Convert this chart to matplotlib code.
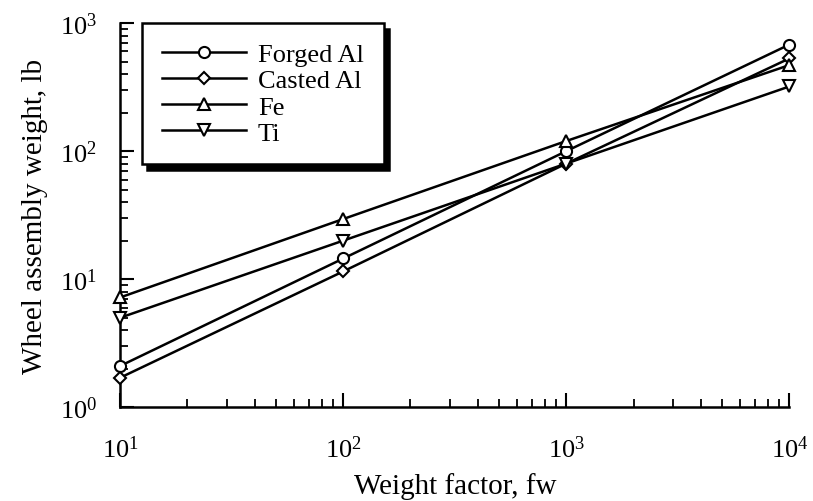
import matplotlib
matplotlib.use("Agg")
import matplotlib.pyplot as plt
from matplotlib.patches import Shadow

plt.rcParams["font.family"] = ["Liberation Serif", "DejaVu Serif"]
plt.rcParams["mathtext.fontset"] = "custom"
plt.rcParams["mathtext.rm"] = "Liberation Serif"

# weight factor (x) and wheel assembly weight (y, lb)
weight_factor = [10, 100, 1000, 10000]
forged_al = [2.1, 14.5, 100, 680]
casted_al = [1.7, 11.5, 80, 530]
fe = [7.2, 29.5, 120, 470]
ti = [5.0, 20, 80, 320]

series = [
    ("Forged Al", forged_al, "o", 8),
    ("Casted Al", casted_al, "D", 6),
    ("Fe", fe, "^", 8),
    ("Ti", ti, "v", 8),
]

fig = plt.figure(figsize=(8.13, 5.02), dpi=100)
ax = fig.add_axes([0.148, 0.187, 0.823, 0.765])

for name, vals, mk, ms in series:
    ax.plot(weight_factor, vals, color="black", lw=1.8, marker=mk, ms=ms,
            mfc="white", mec="black", mew=1.5, label=name, clip_on=False, zorder=3)

ax.set_xscale("log")
ax.set_yscale("log")
ax.set_xlim(10, 1e4)
ax.set_ylim(1, 1e3)

for side in ["top", "right"]:
    ax.spines[side].set_visible(False)
for side in ["left", "bottom"]:
    ax.spines[side].set_linewidth(1.8)

ax.tick_params(which="major", direction="in", length=10, width=1.5, labelsize=19)
ax.tick_params(axis="x", which="major", pad=20)
ax.tick_params(axis="y", which="major", pad=17)
ax.tick_params(which="minor", direction="in", length=6, width=1.3)

ax.set_xlabel("Weight factor, fw", fontsize=21, labelpad=8)
ax.set_ylabel("Wheel assembly weight, lb", fontsize=21, labelpad=8)

leg = ax.legend(loc="upper left", bbox_to_anchor=(0.032, 1.0), borderaxespad=0,
                fontsize=19, frameon=True, fancybox=False, framealpha=1,
                edgecolor="black", handlelength=3.2, handletextpad=0.45,
                labelspacing=0.1, borderpad=0.75)
leg.get_frame().set_linewidth(1.8)
leg.set_zorder(5)

# draw once so the legend box has its size, then add a thick black shadow
fig.canvas.draw()
sh = Shadow(leg.legendPatch, 4, -4, facecolor="black", edgecolor="black", alpha=1)
sh.set_zorder(4.9)
sh.set_clip_on(False)
ax.add_artist(sh)

fig.savefig("out.png", dpi=100)
